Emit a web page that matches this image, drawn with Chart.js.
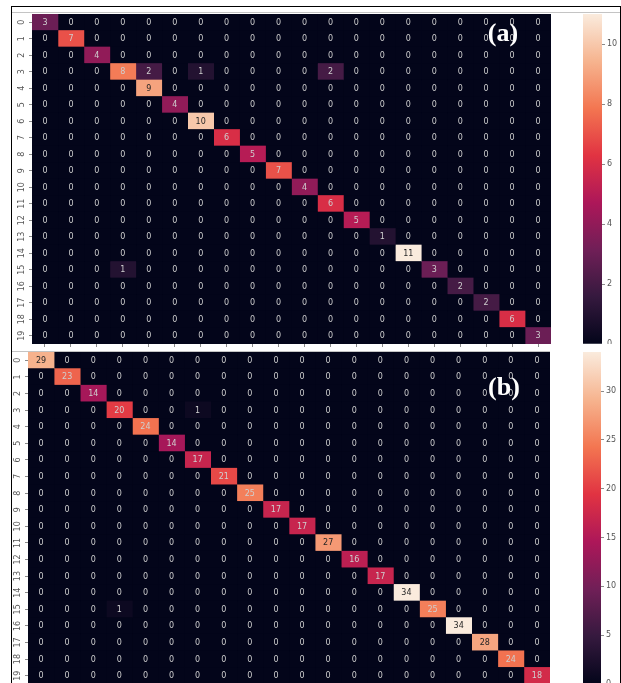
<!DOCTYPE html>
<html>
<head>
<meta charset="utf-8">
<script src="https://cdn.jsdelivr.net/npm/chart.js@4.4.1/dist/chart.umd.min.js"></script>
<style>
  html, body { margin: 0; padding: 0; background: #fff; overflow: hidden; width: 621px; height: 683px; }
  canvas { position: absolute; }
  .frame { position: absolute; left: 11px; top: 6px; width: 608px; height: 700px; border: 1px solid #000; border-bottom: none; }
  .rule { position: absolute; height: 1px; background: #c4c4c4; }
  .tag { position: absolute; width: 60px; text-align: center; color: #fff; font: bold 26px "Liberation Serif", "DejaVu Serif", serif; line-height: 26px; }
</style>
</head>
<body>
<div class="frame"></div>
<div class="rule" style="left:12px; top:12px; width:608px;"></div>
<div class="rule" style="left:12px; top:351px; width:538px;"></div>

<canvas id="heatA" width="539" height="334" style="left:12px; top:14px;"></canvas>
<canvas id="barA" width="49" height="330" style="left:583px; top:14px;"></canvas>
<canvas id="heatB" width="538" height="336" style="left:12px; top:352px;"></canvas>
<canvas id="barB" width="48" height="332" style="left:583px; top:352px;"></canvas>

<div class="tag" style="left:473px; top:20px;">(a)</div>
<div class="tag" style="left:474px; top:374px;">(b)</div>

<script>
// class labels, shared by rows and columns
const classes = ['0', '1', '2', '3', '4', '5', '6', '7', '8', '9',
                 '10', '11', '12', '13', '14', '15', '16', '17', '18', '19'];

// (a) correct predictions on the diagonal, then the few mistakes as [row, col, count]
const diagA = [3, 7, 4, 8, 9, 4, 10, 6, 5, 7, 4, 6, 5, 1, 11, 3, 2, 2, 6, 3];
const offDiagA = [[3, 4, 2], [3, 6, 1], [3, 11, 2], [15, 3, 1]];

// (b)
const diagB = [29, 23, 14, 20, 24, 14, 17, 21, 25, 17, 17, 27, 16, 17, 34, 25, 34, 28, 24, 18];
const offDiagB = [[3, 6, 1], [15, 3, 1]];

// colour bar tick steps
const stepA = 2;
const stepB = 5;

// seaborn "rocket"
const rocket = [
    [0, [3, 5, 26]],
    [1 / 7, [53, 25, 62]],
    [2 / 7, [112, 31, 87]],
    [3 / 7, [173, 23, 89]],
    [4 / 7, [225, 51, 66]],
    [5 / 7, [243, 118, 81]],
    [6 / 7, [246, 180, 143]],
    [1, [250, 235, 221]]
];

const rocketRgb = (t) => {
    t = Math.max(0, Math.min(1, t));
    for (let i = 1; i < rocket.length; i++) {
        if (t <= rocket[i][0]) {
            const [t0, c0] = rocket[i - 1];
            const [t1, c1] = rocket[i];
            const f = (t - t0) / (t1 - t0);
            return c0.map((v, k) => Math.round(v + (c1[k] - v) * f));
        }
    }
    return rocket[rocket.length - 1][1];
};

const rgbStr = (c) => `rgb(${c[0]},${c[1]},${c[2]})`;

// same rule seaborn uses to pick the annotation colour
const textColor = (c) => {
    const lin = c.map(v => {
        v = v / 255;
        return v <= 0.03928 ? v / 12.92 : Math.pow((v + 0.055) / 1.055, 2.4);
    });
    const lum = 0.2126 * lin[0] + 0.7152 * lin[1] + 0.0722 * lin[2];
    return lum > 0.408 ? '#262626' : '#cfcfcf';
};

const buildMatrix = (diag, off) => {
    const m = classes.map(() => classes.map(() => 0));
    diag.forEach((v, i) => { m[i][i] = v; });
    off.forEach(([r, c, v]) => { m[r][c] = v; });
    return m;
};

const cellLabels = {
    id: 'cellLabels',
    beforeDatasetsDraw(chart) {
        const a = chart.chartArea;
        chart.ctx.save();
        chart.ctx.fillStyle = rgbStr(rocket[0][1]);
        chart.ctx.fillRect(a.left, a.top, a.right - a.left, a.bottom - a.top);
        chart.ctx.restore();
    },
    afterDatasetsDraw(chart) {
        const ctx = chart.ctx;
        const m = chart.config.options.plugins.cellLabels.matrix;
        const vmax = chart.config.options.plugins.cellLabels.vmax;
        ctx.save();
        ctx.font = '8px "DejaVu Sans"';
        ctx.textAlign = 'center';
        ctx.textBaseline = 'middle';
        chart.data.datasets.forEach((ds, c) => {
            chart.getDatasetMeta(c).data.forEach((bar, r) => {
                const v = m[r][c];
                const p = bar.getCenterPoint();
                ctx.fillStyle = textColor(rocketRgb(v / vmax));
                ctx.fillText(String(v), p.x, p.y + 0.5);
            });
        });
        ctx.restore();
    }
};

const createHeatmap = (id, diag, off, yWidth) => {
    const m = buildMatrix(diag, off);
    const vmax = Math.max(...m.flat());
    const datasets = classes.map((_, c) => ({
        data: classes.map(() => [c, c + 1]),
        backgroundColor: classes.map((_, r) => rgbStr(rocketRgb(m[r][c] / vmax))),
        borderWidth: 0,
        grouped: false,
        barPercentage: 1,
        categoryPercentage: 1
    }));

    new Chart(document.getElementById(id), {
        type: 'bar',
        data: { labels: classes, datasets },
        options: {
            responsive: false,
            animation: false,
            indexAxis: 'y',
            layout: { padding: 0 },
            plugins: {
                legend: { display: false },
                tooltip: { enabled: false },
                cellLabels: { matrix: m, vmax }
            },
            scales: {
                x: {
                    type: 'linear',
                    min: 0,
                    max: classes.length,
                    afterBuildTicks: (s) => { s.ticks = classes.map((_, c) => ({ value: c + 0.5 })); },
                    afterFit: (s) => { s.height = 4; s.paddingLeft = 0; s.paddingRight = 0; },
                    ticks: { display: false },
                    grid: { drawOnChartArea: false, tickLength: 3, color: '#8a8a8a' },
                    border: { display: false }
                },
                y: {
                    offset: true,
                    afterFit: (s) => { s.width = yWidth; s.paddingTop = 0; s.paddingBottom = 0; },
                    ticks: {
                        autoSkip: false,
                        minRotation: 90,
                        maxRotation: 90,
                        crossAlign: 'center',
                        padding: 2,
                        color: '#555',
                        font: { family: 'DejaVu Sans', size: 8 }
                    },
                    grid: { offset: false, drawOnChartArea: false, tickLength: 3, color: '#8a8a8a' },
                    border: { display: false }
                }
            }
        },
        plugins: [cellLabels]
    });
    return vmax;
};

const createColorbar = (id, vmax, step) => {
    new Chart(document.getElementById(id), {
        type: 'bar',
        data: {
            labels: [''],
            datasets: [{
                data: [[0, vmax]],
                backgroundColor: (c) => {
                    const a = c.chart.chartArea;
                    if (!a) return null;
                    const g = c.chart.ctx.createLinearGradient(0, a.bottom, 0, a.top);
                    rocket.forEach(([t, col]) => g.addColorStop(t, rgbStr(col)));
                    return g;
                },
                borderWidth: 0,
                barPercentage: 1,
                categoryPercentage: 1
            }]
        },
        options: {
            responsive: false,
            animation: false,
            layout: { padding: 0 },
            plugins: { legend: { display: false }, tooltip: { enabled: false } },
            scales: {
                x: { display: false },
                y: {
                    position: 'right',
                    min: 0,
                    max: vmax,
                    afterFit: (s) => { s.width = 30; s.paddingTop = 0; s.paddingBottom = 0; },
                    ticks: {
                        stepSize: step,
                        includeBounds: false,
                        padding: 2,
                        color: '#555',
                        font: { family: 'DejaVu Sans', size: 8 }
                    },
                    grid: { drawOnChartArea: false, tickLength: 3, color: '#8a8a8a' },
                    border: { display: false }
                }
            }
        }
    });
};

window.onload = () => {
    const maxA = createHeatmap('heatA', diagA, offDiagA, 20);
    const maxB = createHeatmap('heatB', diagB, offDiagB, 16);
    createColorbar('barA', maxA, stepA);
    createColorbar('barB', maxB, stepB);
};
</script>
</body>
</html>
